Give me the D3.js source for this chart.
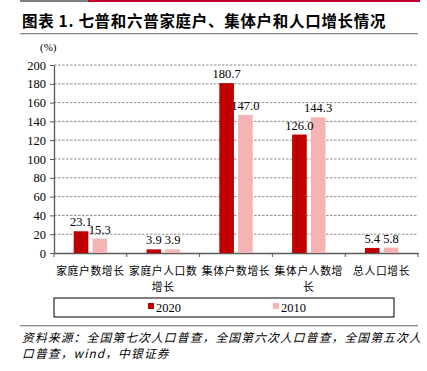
<!DOCTYPE html>
<html>
<head>
<meta charset="utf-8">
<script src="https://cdn.jsdelivr.net/npm/d3@7"></script>
<style>
  body { margin: 0; background: #fff; }
  svg text { fill: #000; }
</style>
</head>
<body>
<svg id="chart" width="427" height="371"></svg>
<script>
// Data
const categories = [
  ["家庭户数增长"],
  ["家庭户人口数", "增长"],
  ["集体户数增长"],
  ["集体户人数增", "长"],
  ["总人口增长"]
];
const series = ["2020", "2010"];
const values2020 = [23.1, 3.9, 180.7, 126.0, 5.4];
const values2010 = [15.3, 3.9, 147.0, 144.3, 5.8];
const yTicks = [0, 20, 40, 60, 80, 100, 120, 140, 160, 180, 200];

const colors = { "2020": "#c00000", "2010": "#f4b4b4" };
const serif = "'Liberation Serif', 'Times New Roman', serif";
const cjk = "'Noto Sans CJK SC', sans-serif";

const svg = d3.select("svg#chart");

// Header strip
svg.append("rect").attr("x", 20).attr("y", 0).attr("width", 68).attr("height", 2).style("fill", "#808080");
svg.append("rect").attr("x", 88).attr("y", 0).attr("width", 332).attr("height", 2).style("fill", "#c0002a");

svg.append("text")
  .attr("x", 22).attr("y", 27)
  .text("图表 1. 七普和六普家庭户、集体户和人口增长情况")
  .style("font-family", cjk)
  .style("font-weight", "bold")
  .style("font-size", "15.5px")
  .style("letter-spacing", "0.7px");

svg.append("rect").attr("x", 20).attr("y", 33).attr("width", 398).attr("height", 1.3).style("fill", "#8c8c8c");

// Plot area
const margin = { left: 54, right: 418, top: 65, bottom: 253 };

const x = d3.scaleBand()
  .domain(d3.range(categories.length))
  .range([margin.left, margin.right]);

const x1 = d3.scaleBand()
  .domain(series)
  .range([0, x.bandwidth()])
  .paddingInner(0.22)
  .paddingOuter(1.05);

const y = d3.scaleLinear()
  .domain([0, 200])
  .range([margin.bottom, margin.top]);

svg.append("text")
  .attr("x", 40).attr("y", 51)
  .text("(%)")
  .style("font-family", serif)
  .style("font-size", "11px");

// Gridlines
svg.append("g")
  .selectAll("line")
  .data(yTicks.filter(d => d > 0))
  .join("line")
    .attr("x1", margin.left).attr("x2", margin.right)
    .attr("y1", d => y(d)).attr("y2", d => y(d))
    .style("stroke", "#707070")
    .style("stroke-width", 0.8)
    .style("stroke-dasharray", "2.5,1.5");

// Y axis
const yAxis = svg.append("g")
  .attr("transform", "translate(" + margin.left + ",0)")
  .call(d3.axisLeft(y).tickValues(yTicks).tickSize(4).tickSizeOuter(0));
yAxis.select(".domain").style("stroke", "#595959").style("stroke-width", 1.3);
yAxis.selectAll(".tick line").style("stroke", "#595959");
yAxis.selectAll(".tick text")
  .style("font-family", serif)
  .style("font-size", "12.5px")
  .attr("x", -8);

// X axis
const xAxis = svg.append("g")
  .attr("transform", "translate(0," + margin.bottom + ")")
  .call(d3.axisBottom(x).tickValues([]).tickSizeOuter(0));
xAxis.select(".domain").style("stroke", "#595959").style("stroke-width", 1.3);
xAxis.selectAll(".bound")
  .data(d3.range(categories.length + 1))
  .join("line")
    .attr("x1", d => margin.left + d * x.bandwidth())
    .attr("x2", d => margin.left + d * x.bandwidth())
    .attr("y1", 0).attr("y2", 4)
    .style("stroke", "#595959");

// Bars
const rows = categories.map((c, i) => ({ i: i, "2020": values2020[i], "2010": values2010[i] }));

const groups = svg.append("g")
  .selectAll("g")
  .data(rows)
  .join("g")
    .attr("transform", d => "translate(" + x(d.i) + ",0)");

groups.selectAll("rect")
  .data(d => series.map(s => ({ s: s, v: d[s] })))
  .join("rect")
    .attr("x", d => x1(d.s))
    .attr("y", d => y(d.v))
    .attr("width", x1.bandwidth())
    .attr("height", d => y(0) - y(d.v))
    .style("fill", d => colors[d.s]);

groups.selectAll("text")
  .data(d => series.map(s => ({ s: s, v: d[s] })))
  .join("text")
    .attr("x", d => x1(d.s) + x1.bandwidth() / 2)
    .attr("y", d => y(d.v) - 5)
    .text(d => d.v.toFixed(1))
    .style("text-anchor", "middle")
    .style("font-family", serif)
    .style("font-size", "12.5px");

// Category labels
const catLabels = svg.append("g")
  .selectAll("text")
  .data(categories)
  .join("text")
    .attr("x", (d, i) => x(i) + x.bandwidth() / 2)
    .attr("y", 275)
    .style("text-anchor", "middle")
    .style("font-family", cjk)
    .style("font-size", "10.8px")
    .style("letter-spacing", "0.6px");

catLabels.selectAll("tspan")
  .data(d => d)
  .join("tspan")
    .attr("x", function() { return d3.select(this.parentNode).attr("x"); })
    .attr("dy", (d, i) => i === 0 ? 0 : 16)
    .text(d => d);

// Legend
const legend = svg.append("g").attr("class", "legend");
legend.append("rect")
  .attr("x", 54).attr("y", 298)
  .attr("width", 340).attr("height", 19)
  .style("fill", "white")
  .style("stroke", "black")
  .style("stroke-width", 1);

const legendX = d3.scalePoint().domain(series).range([148, 273]);
const items = legend.selectAll("g.item")
  .data(series)
  .join("g")
    .attr("class", "item")
    .attr("transform", d => "translate(" + legendX(d) + ",0)");
items.append("rect")
  .attr("x", 0).attr("y", 303)
  .attr("width", 6).attr("height", 6)
  .style("fill", d => colors[d]);
items.append("text")
  .attr("x", 8).attr("y", 312)
  .text(d => d)
  .style("font-family", serif)
  .style("font-size", "12.5px");

// Footer
svg.append("rect").attr("x", 20).attr("y", 325).attr("width", 398).attr("height", 1.3).style("fill", "#8c8c8c");

const source = ["资料来源：全国第七次人口普查，全国第六次人口普查，全国第五次人", "口普查，wind，中银证券"];
svg.append("g")
  .selectAll("text")
  .data(source)
  .join("text")
    .attr("x", 22)
    .attr("y", (d, i) => 342 + i * 16)
    .text(d => d)
    .style("font-family", cjk)
    .style("font-style", "italic")
    .style("font-size", "11.8px")
    .style("letter-spacing", "1.1px");
</script>
</body>
</html>
